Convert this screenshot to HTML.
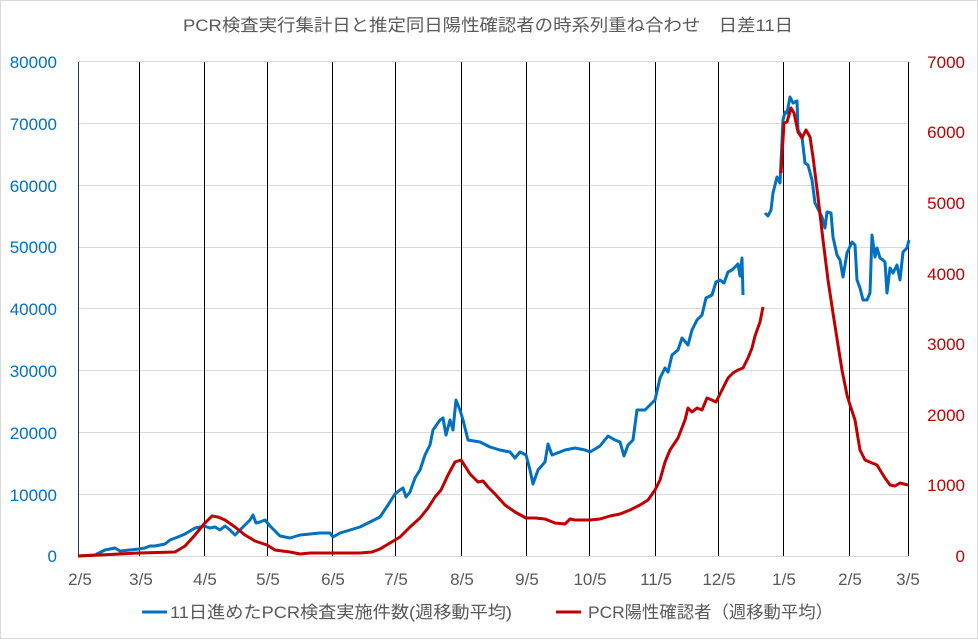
<!DOCTYPE html>
<html><head><meta charset="utf-8"><style>
body{margin:0;background:#fff;}
svg text{font-family:"Liberation Sans","Noto Sans CJK JP",sans-serif;}
</style></head><body>
<svg width="978" height="639" xmlns="http://www.w3.org/2000/svg">
<rect x="0.5" y="0.5" width="977" height="638" fill="#fff" stroke="#d9d9d9"/>
<text x="183" y="31" font-size="17" fill="#595959" textLength="610" lengthAdjust="spacingAndGlyphs">PCR検査実行集計日と推定同日陽性確認者の時系列重ね合わせ　日差11日</text>
<g stroke="#d9d9d9" stroke-width="1">
<line x1="78" x2="908" y1="61.5" y2="61.5"/><line x1="78" x2="908" y1="123.5" y2="123.5"/>
<line x1="78" x2="908" y1="185.5" y2="185.5"/><line x1="78" x2="908" y1="247.5" y2="247.5"/>
<line x1="78" x2="908" y1="308.5" y2="308.5"/><line x1="78" x2="908" y1="370.5" y2="370.5"/>
<line x1="78" x2="908" y1="432.5" y2="432.5"/><line x1="78" x2="908" y1="494.5" y2="494.5"/>
<line x1="78" x2="908" y1="556.5" y2="556.5"/>
</g>
<g stroke="#000" stroke-width="1">
<line x1="78.5" x2="78.5" y1="62" y2="556" stroke="#1f3864"/>
<line x1="139.5" x2="139.5" y1="62" y2="556"/><line x1="204.5" x2="204.5" y1="62" y2="556"/>
<line x1="267.5" x2="267.5" y1="62" y2="556"/><line x1="332.5" x2="332.5" y1="62" y2="556"/>
<line x1="395.5" x2="395.5" y1="62" y2="556"/><line x1="461.5" x2="461.5" y1="62" y2="556"/>
<line x1="526.5" x2="526.5" y1="62" y2="556"/><line x1="589.5" x2="589.5" y1="62" y2="556"/>
<line x1="655.5" x2="655.5" y1="62" y2="556"/><line x1="718.5" x2="718.5" y1="62" y2="556"/>
<line x1="783.5" x2="783.5" y1="62" y2="556"/><line x1="849.5" x2="849.5" y1="62" y2="556"/>
<line x1="908.5" x2="908.5" y1="62" y2="556"/>
</g>
<g font-size="17" fill="#0070c0" text-anchor="end">
<text x="57" y="68">80000</text><text x="57" y="130">70000</text><text x="57" y="192">60000</text>
<text x="57" y="253">50000</text><text x="57" y="315">40000</text><text x="57" y="377">30000</text>
<text x="57" y="439">20000</text><text x="57" y="501">10000</text><text x="57" y="562">0</text>
</g>
<g font-size="17" fill="#c00000" text-anchor="end">
<text x="965" y="68">7000</text><text x="965" y="138">6000</text><text x="965" y="209">5000</text>
<text x="965" y="280">4000</text><text x="965" y="350">3000</text><text x="965" y="421">2000</text>
<text x="965" y="491">1000</text><text x="965" y="562">0</text>
</g>
<g font-size="17" fill="#595959" text-anchor="middle">
<text x="80" y="585">2/5</text><text x="141" y="585">3/5</text><text x="205" y="585">4/5</text>
<text x="268" y="585">5/5</text><text x="333" y="585">6/5</text><text x="396" y="585">7/5</text>
<text x="462" y="585">8/5</text><text x="527" y="585">9/5</text><text x="590" y="585">10/5</text>
<text x="656" y="585">11/5</text><text x="719" y="585">12/5</text><text x="784" y="585">1/5</text>
<text x="850" y="585">2/5</text><text x="908" y="585">3/5</text>
</g>
<g fill="none" stroke-width="3" stroke-linejoin="round">
<polyline stroke="#0070c0" points="78,556 95,555 105,550 115,548 120,551 130,550 139,549 145,548 150,546 155,546 160,545 165,544 170,540 178,537 185,534 190,531 195,528 200,527 204,526 210,528 215,527 220,530 225,526 230,530 235,535 240,530 245,525 250,520 253,515 256,523 260,522 265,520 270,526 280,536 290,538 300,535 310,534 320,533 330,533 333,537 340,533 350,530 360,527 370,522 380,517 388,505 395,494 400,490 403,488 406,497 410,492 415,478 420,470 425,455 430,445 433,430 440,420 443,418 446,435 450,420 453,430 456,400 460,410 463,420 468,440 480,442 490,447 500,450 510,452 515,458 520,452 526,455 530,470 533,484 538,470 545,462 548,444 552,455 560,452 565,450 575,448 585,450 590,452 600,446 608,436 615,440 620,442 624,456 628,445 633,440 637,410 645,410 650,405 655,400 660,378 665,368 668,372 672,355 678,350 682,338 688,345 692,330 697,320 702,315 706,298 712,295 716,282 720,280 724,283 728,272 732,270 738,264 740,276 742,258 743,295"/>
<polyline stroke="#0070c0" points="765,213 768,216 771,210 773,193 777,177 780,183 783,120 785,112 787,113 790,97 793,103 797,101 798,130 802,137 805,163 808,165 812,180 815,203 822,217 825,228 827,212 831,213 833,237 837,255 840,260 843,277 847,253 852,242 855,245 857,280 860,288 863,300 867,300 870,293 872,235 875,257 877,248 880,258 883,260 885,262 887,293 890,268 893,273 897,265 900,280 903,252 907,248 909,240"/>
<polyline stroke="#c00000" points="78,556 100,555 139,553 175,552 185,546 195,535 204,524 212,516 218,517 225,520 235,527 245,535 255,541 267,545 275,550 290,552 300,554 310,553 333,553 360,553 372,552 380,549 390,543 400,537 410,527 420,518 428,508 435,497 441,490 448,475 455,462 461,460 465,466 470,474 478,482 483,481 488,487 495,494 505,505 515,512 526,518 535,518 545,519 555,523 565,524 570,519 575,520 590,520 600,519 610,516 620,514 630,510 640,505 648,500 655,490 660,480 665,462 670,450 678,438 685,420 688,408 692,412 697,408 702,410 707,398 712,400 716,402 722,390 728,378 733,373 738,370 743,368 748,358 752,348 755,336 760,322 763,307"/>
<polyline stroke="#c00000" points="781,173 784,123 787,122 791,108 794,113 798,132 802,138 806,130 810,137 813,157 818,197 823,240 828,280 833,313 838,345 842,370 847,395 850,405 855,420 860,450 865,460 872,463 877,465 880,470 885,478 890,485 895,486 900,483 908,485"/>
</g>
<line x1="142" x2="167" y1="612" y2="612" stroke="#0070c0" stroke-width="3"/>
<text x="170" y="618" font-size="17" fill="#595959" textLength="342" lengthAdjust="spacingAndGlyphs">11日進めたPCR検査実施件数(週移動平均)</text>
<line x1="556" x2="581" y1="612" y2="612" stroke="#c00000" stroke-width="3"/>
<text x="588" y="618" font-size="17" fill="#595959" textLength="245" lengthAdjust="spacingAndGlyphs">PCR陽性確認者（週移動平均）</text>
</svg>
</body></html>
